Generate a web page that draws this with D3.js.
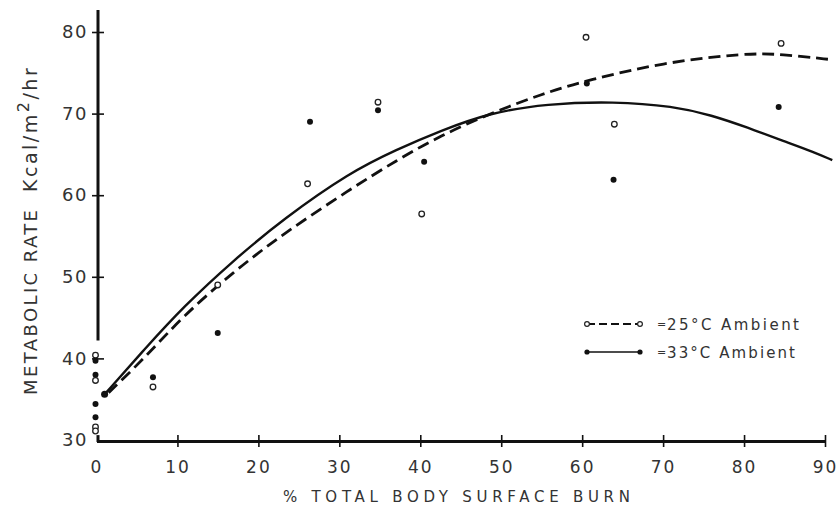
<!DOCTYPE html>
<html><head><meta charset="utf-8">
<script src="https://cdn.jsdelivr.net/npm/d3@7"></script>
<style>
body{margin:0;background:#fff;}
svg text{font-family:"DejaVu Sans",sans-serif;fill:#333;}
</style></head>
<body><svg id="c" width="840" height="507"></svg>
<script>
// ---- data ----
const xTicks = [0,10,20,30,40,50,60,70,80,90];
const yTicks = [30,40,50,60,70,80];
// observed points, 25°C ambient (open circles)
const open25X = [0,0,0,0,7.1,15.1,26.2,34.9,40.3,60.6,64.1,84.7];
const open25Y = [40.4,37.3,31.6,31.1,36.5,49.0,61.4,71.4,57.7,79.35,68.7,78.6];
// observed points, 33°C ambient (filled dots)
const fill33X = [0,0,0,0,7.1,15.1,26.5,34.9,40.6,60.7,64.0,84.4];
const fill33Y = [39.7,38.0,34.4,32.8,37.7,43.1,69.0,70.4,64.1,73.7,61.9,70.8];
// fitted curves
const curve33X = [1,6,10.7,16.9,23.1,31.3,37.1,42.5,48.6,55.6,63.9,71.3,76,80.4,85,88.6,90.9];
const curve33Y = [35.6,41.2,46.3,52.0,57.1,62.8,65.6,67.9,70.1,71.2,71.5,70.9,69.8,68.3,66.6,65.3,64.3];
const curve25X = [1.5,6,10.7,16.9,23.1,31.3,37.1,42.5,48.6,55,60.6,70.5,80.4,84.5,90.9];
const curve25Y = [35.8,40.1,45.2,50.6,55.3,60.7,64.3,67.3,70.0,72.4,74.1,76.35,77.4,77.3,76.6];
const legendLabels = ["25°C  Ambient","33°C Ambient"];

// ---- drawing ----
const svg = d3.select("#c");
const x = d3.scaleLinear().domain([0,90]).range([96.5,825]);
const y = d3.scaleLinear().domain([30,80]).range([440,32]);
const ink = "#111";

// x axis
const xg = svg.append("g").attr("transform",`translate(0,${y(30)+1})`)
  .call(d3.axisBottom(x).tickValues(xTicks).tickSize(6).tickSizeOuter(0).tickPadding(14));
xg.select(".domain").attr("stroke",ink).attr("stroke-width",3);
xg.selectAll(".tick line").attr("y1",-6).attr("y2",6).attr("stroke",ink).attr("stroke-width",1.6)
  .attr("opacity",d=>d===0?0:1);
xg.selectAll(".tick text").attr("font-size",17).attr("letter-spacing",2).attr("fill","#333")
  .attr("font-family","DejaVu Sans, sans-serif");

// y axis
const yg = svg.append("g").attr("transform",`translate(${x(0)+1.5},0)`)
  .call(d3.axisLeft(y).tickValues(yTicks).tickSize(6).tickSizeOuter(0).tickPadding(4));
yg.select(".domain").remove();
yg.selectAll(".tick line").attr("x1",6).attr("x2",-6).attr("stroke",ink).attr("stroke-width",1.6)
  .attr("opacity",d=>d===30?0:1);
yg.selectAll(".tick text").attr("font-size",18).attr("letter-spacing",1.5).attr("fill","#333")
  .attr("font-family","DejaVu Sans, sans-serif");
// axis line (broken where the zero-burn points sit)
yg.append("line").attr("x1",0).attr("x2",0).attr("y1",y(82.7)).attr("y2",y(42.2))
  .attr("stroke",ink).attr("stroke-width",3);
yg.append("line").attr("x1",0).attr("x2",0).attr("y1",y(30.6)).attr("y2",y(30)+2)
  .attr("stroke",ink).attr("stroke-width",3);

// axis titles
svg.append("text").attr("x",283).attr("y",502).attr("font-size",15)
  .attr("textLength",347).attr("lengthAdjust","spacing").text("% TOTAL BODY SURFACE BURN");
svg.append("text").attr("transform","translate(37,395) rotate(-90)").attr("font-size",18)
  .attr("textLength",185).attr("lengthAdjust","spacing").text("METABOLIC RATE");
const yt2 = svg.append("text").attr("transform","translate(37,192) rotate(-90)").attr("font-size",19)
  .attr("letter-spacing",2.5);
yt2.append("tspan").text("Kcal/m");
yt2.append("tspan").attr("dy",-8).attr("font-size",16).text("2");
yt2.append("tspan").attr("dy",8).text("/hr");

// curves
const line = d3.line().x(d=>x(d[0])).y(d=>y(d[1])).curve(d3.curveBasis);
const c25 = d3.zip(curve25X,curve25Y), c33 = d3.zip(curve33X,curve33Y);
svg.append("path").attr("d",line(c25)).attr("fill","none").attr("stroke",ink)
  .attr("stroke-width",2.8).attr("stroke-dasharray","12,6");
svg.append("path").attr("d",line(c33)).attr("fill","none").attr("stroke",ink).attr("stroke-width",2.4);
svg.append("circle").attr("cx",x(curve33X[0])).attr("cy",y(curve33Y[0])).attr("r",3.5).attr("fill",ink);

// points
svg.append("g").selectAll("circle").data(d3.zip(open25X,open25Y)).join("circle")
  .attr("cx",d=>x(d[0])-1).attr("cy",d=>y(d[1])).attr("r",2.8)
  .attr("fill","#fff").attr("stroke","#222").attr("stroke-width",1.3);
svg.append("g").selectAll("circle").data(d3.zip(fill33X,fill33Y)).join("circle")
  .attr("cx",d=>x(d[0])-1).attr("cy",d=>y(d[1])).attr("r",3)
  .attr("fill",ink);

// legend
const lg = svg.append("g");
const rows = [{y:324,dash:"8,4",open:true},{y:352,dash:null,open:false}];
rows.forEach((r,i)=>{
  lg.append("line").attr("x1",587).attr("x2",640).attr("y1",r.y).attr("y2",r.y)
    .attr("stroke",ink).attr("stroke-width",r.open?1.8:1.5).attr("stroke-dasharray",r.dash);
  [587,640].forEach(cx=>{
    if(r.open) lg.append("circle").attr("cx",cx).attr("cy",r.y).attr("r",2.4)
      .attr("fill","#fff").attr("stroke","#222").attr("stroke-width",1.2);
    else lg.append("circle").attr("cx",cx).attr("cy",r.y).attr("r",2.6).attr("fill",ink);
  });
  lg.append("text").attr("x",657).attr("y",r.y+4).attr("font-size",11).text("=");
  lg.append("text").attr("x",667).attr("y",r.y+6).attr("font-size",15)
    .attr("textLength",i===0?132:128).attr("lengthAdjust","spacing").text(legendLabels[i]);
});
</script></body></html>
